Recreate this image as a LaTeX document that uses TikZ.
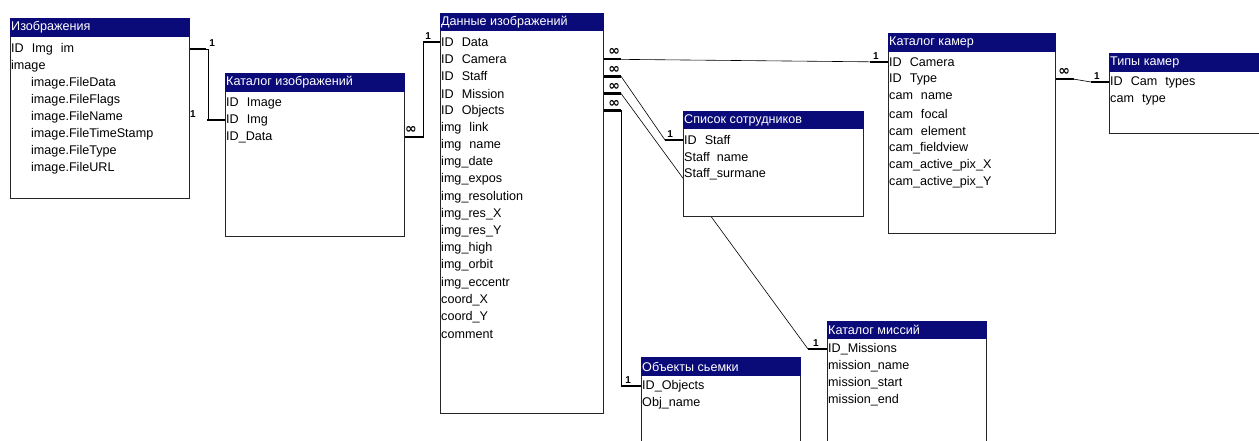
\documentclass[tikz,border=0pt]{standalone}
\usepackage{fontspec}
\setmainfont{Liberation Sans}
\newfontfamily\symfont{DejaVu Sans}
\usetikzlibrary{calc, backgrounds}

\definecolor{hdrblue}{RGB}{10,10,120}
\newcommand{\gap}{\hspace{8pt}}

\tikzset{
  tbl/.style={draw=black!85, line width=1.1pt, fill=white, anchor=north west, inner sep=0pt},
  ttl/.style={anchor=west, text=white, inner sep=0pt, font=\fontsize{12.6}{14}\selectfont},
  fld/.style={anchor=west, inner sep=0pt, font=\fontsize{12.6}{14}\selectfont},
  lnk/.style={black, line width=0.6pt},
  stub/.style={black, line width=2.6pt},
  card/.style={inner sep=0.5pt, font=\fontsize{10}{10}\bfseries\selectfont},
  many/.style={inner sep=0pt, font=\symfont\bfseries\fontsize{14}{14}\selectfont},
}

\begin{document}
\begin{tikzpicture}[x=1pt, y=-1pt]

\useasboundingbox (0,0) rectangle (1259,441);
\clip (0,0) rectangle (1259,441);

% Изображения
\node[tbl, minimum width=179pt, minimum height=180pt] (img) at (10,18) {};
\fill[hdrblue] (img.north west) rectangle ($(img.north east)+(0,19)$);
\node[ttl] (img-t) at (11,27.5) {Изображения};
\node[fld] (img1) at (11,49) {ID\gap Img\gap im};
\node[fld] (img2) at (11,66) {image};
\foreach \t [count=\i from 3] in {image.FileData, image.FileFlags, image.FileName,
    image.FileTimeStamp, image.FileType, image.FileURL}
  \node[fld] (img\i) at (31,{83+17*(\i-3)}) {\t};

% Каталог изображений
\node[tbl, minimum width=179pt, minimum height=163pt] (imgcat) at (225,73) {};
\fill[hdrblue] (imgcat.north west) rectangle ($(imgcat.north east)+(0,19)$);
\node[ttl] (imgcat-t) at (226,82.5) {Каталог изображений};
\foreach \t [count=\i] in {ID\gap Image, ID\gap Img, ID\_Data}
  \node[fld] (ic\i) at (226,{103+17*(\i-1)}) {\t};

% Данные изображений
\node[tbl, minimum width=163pt, minimum height=400pt] (data) at (440,13) {};
\fill[hdrblue] (data.north west) rectangle ($(data.north east)+(0,18)$);
\node[ttl] (data-t) at (441,22) {Данные изображений};
\foreach \t [count=\i] in {ID\gap Data, ID\gap Camera, ID\gap Staff, ID\gap Mission,
    ID\gap Objects, img\gap link, img\gap name, img\_date, img\_expos, img\_resolution,
    img\_res\_X, img\_res\_Y, img\_high, img\_orbit, img\_eccentr, coord\_X, coord\_Y, comment}
  \node[fld] (d\i) at (441,{42+17.2*(\i-1)}) {\t};

% Список сотрудников
\node[tbl, minimum width=180pt, minimum height=105pt] (staff) at (683,111) {};
\fill[hdrblue] (staff.north west) rectangle ($(staff.north east)+(0,18)$);
\node[ttl] (staff-t) at (684,120) {Список сотрудников};
\foreach \t [count=\i] in {ID\gap Staff, Staff\ \ name, Staff\_surmane}
  \node[fld] (st\i) at (684,{140+17*(\i-1)}) {\t};

% Каталог камер
\node[tbl, minimum width=167pt, minimum height=200pt] (cam) at (888,33) {};
\fill[hdrblue] (cam.north west) rectangle ($(cam.north east)+(0,19)$);
\node[ttl] (cam-t) at (889,42.5) {Каталог камер};
\foreach \t [count=\i] in {ID\gap Camera, ID\gap Type, cam\gap name, cam\gap focal,
    cam\gap element, cam\_fieldview, cam\_active\_pix\_X, cam\_active\_pix\_Y}
  \node[fld] (c\i) at (889,{62+17.2*(\i-1)}) {\t};

% Типы камер
\node[tbl, minimum width=200pt, minimum height=80pt] (camtype) at (1109,53) {};
\fill[hdrblue] (camtype.north west) rectangle ($(camtype.north east)+(0,19)$);
\node[ttl] (camtype-t) at (1110,62.5) {Типы камер};
\node[fld] (ct1) at (1110,82) {ID\gap Cam\gap types};
\node[fld] (ct2) at (1110,99.5) {cam\gap type};

% Каталог миссий
\node[tbl, minimum width=159pt, minimum height=200pt] (mission) at (827,321) {};
\fill[hdrblue] (mission.north west) rectangle ($(mission.north east)+(0,18)$);
\node[ttl] (mission-t) at (828,330) {Каталог миссий};
\foreach \t [count=\i] in {ID\_Missions, mission\_name, mission\_start, mission\_end}
  \node[fld] (m\i) at (828,{349+17.2*(\i-1)}) {\t};

% Объекты сьемки
\node[tbl, minimum width=159pt, minimum height=200pt] (obj) at (641,357) {};
\fill[hdrblue] (obj.north west) rectangle ($(obj.north east)+(0,19)$);
\node[ttl] (obj-t) at (642,366.5) {Объекты сьемки};
\node[fld] (o1) at (642,386) {ID\_Objects};
\node[fld] (o2) at (642,403) {Obj\_name};

% Links (behind the tables)
\begin{scope}[on background layer]
  % Изображения -- Каталог изображений
  \draw[lnk] (img1 -| img.east) -- ++(18,0) |- (ic2 -| imgcat.west);
  \draw[stub] (img1 -| img.east) -- ++(16,0) node[card, pos=1.38, above=1pt] (one-img) {1};
  \draw[stub] (ic2 -| imgcat.west) -- ++(-18,0) node[card, pos=1.78, above=1pt] (one-ic) {1};

  % Каталог изображений -- Данные изображений
  \draw[lnk] (ic3 -| imgcat.east) -- ++(18,0) |- (d1 -| data.west);
  \draw[stub] (ic3 -| imgcat.east) -- ++(18,0) node[many, pos=0.33, above=2pt] (inf-ic) {∞};
  \draw[stub] (d1 -| data.west) -- ++(-17,0) node[card, pos=0.7, above=1pt] (one-d) {1};

  % Данные изображений -- Каталог камер
  \draw[lnk] (d2 -| data.east) -- (c1 -| cam.west);
  \draw[stub] (d2 -| data.east) -- ++(17,0) node[many, pos=0.6, above=2pt] (inf-cam) {∞};
  \draw[stub] (c1 -| cam.west) -- ++(-18,0) node[card, pos=0.67, above=1pt] (one-cam) {1};

  % Данные изображений -- Список сотрудников
  \draw[lnk] (d3 -| data.east) -- ++(17,0) -- ($(st1 -| staff.west)+(-18,0)$) -- (st1 -| staff.west);
  \draw[stub] (d3 -| data.east) -- ++(17,0) node[many, pos=0.6, above=2pt] (inf-st) {∞};
  \draw[stub] (st1 -| staff.west) -- ++(-18,0) node[card, pos=0.72, above=1pt] (one-st) {1};

  % Данные изображений -- Каталог миссий
  \draw[lnk] (d4 -| data.east) -- ++(17,0) -- ($(m1 -| mission.west)+(-19,0)$) -- (m1 -| mission.west);
  \draw[stub] (d4 -| data.east) -- ++(17,0) node[many, pos=0.6, above=2pt] (inf-m) {∞};
  \draw[stub] (m1 -| mission.west) -- ++(-19,0) node[card, pos=0.58, above=1pt] (one-m) {1};

  % Данные изображений -- Объекты сьемки
  \draw[lnk] (d5 -| data.east) -- ++(17,0) |- (o1 -| obj.west);
  \draw[stub] (d5 -| data.east) -- ++(17,0) node[many, pos=0.6, above=2pt] (inf-o) {∞};
  \draw[stub] (o1 -| obj.west) -- ++(-19,0) node[card, pos=0.68, above=1pt] (one-o) {1};

  % Каталог камер -- Типы камер
  \draw[lnk] (c2 -| cam.east) -- ++(18,0) -- ($(ct1 -| camtype.west)+(-18,0)$) -- (ct1 -| camtype.west);
  \draw[stub] (c2 -| cam.east) -- ++(18,0) node[many, pos=0.45, above=2pt] (inf-ct) {∞};
  \draw[stub] (ct1 -| camtype.west) -- ++(-18,0) node[card, pos=0.67, above=1pt] (one-ct) {1};
\end{scope}

\end{tikzpicture}
\end{document}
